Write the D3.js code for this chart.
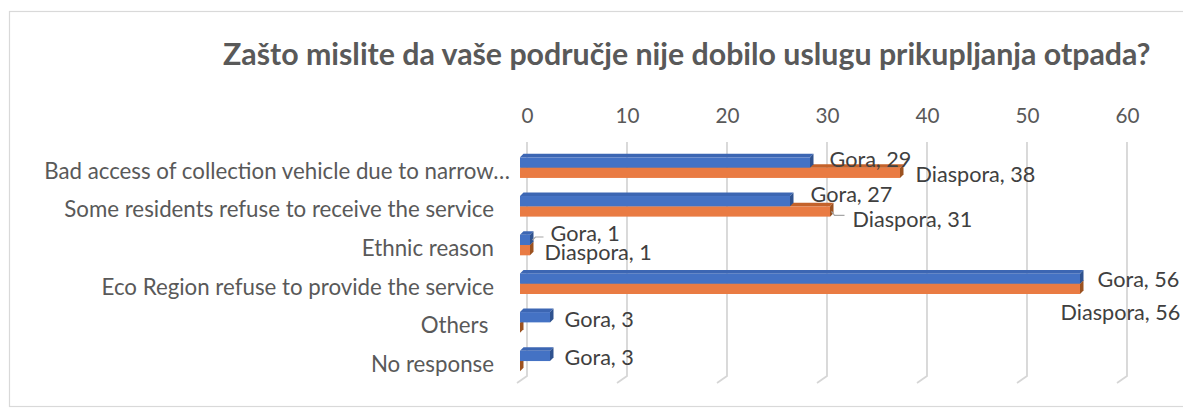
<!DOCTYPE html>
<html>
<head>
<meta charset="utf-8">
<script src="https://cdn.jsdelivr.net/npm/d3@7/dist/d3.min.js"></script>
<style>
  html, body { margin: 0; padding: 0; background: #fff; }
  svg { display: block; }
  text { font-family: Lato, "Open Sans", sans-serif; }
</style>
</head>
<body>
<div id="chart"></div>
<script>
// ---------------- data ----------------
const title = "Zašto mislite da vaše područje nije dobilo uslugu prikupljanja otpada?";
const categories = [
  "Bad access of collection vehicle due to narrow…",
  "Some residents refuse to receive the service",
  "Ethnic reason",
  "Eco Region refuse to provide the service",
  "Others ",
  "No response"
];
const seriesNames = ["Gora", "Diaspora"];
const goraValues = [29, 27, 1, 56, 3, 3];
const diasporaValues = [38, 31, 1, 56, 0, 0];
const tickValues = [0, 10, 20, 30, 40, 50, 60];

// ---------------- layout ----------------
const W = 1183, H = 408;
const svg = d3.select("#chart").append("svg").attr("width", W).attr("height", H);

// border
svg.append("rect").attr("x", 9.5).attr("y", 11.5).attr("width", 1185).attr("height", 395)
  .attr("fill", "#fff").attr("stroke", "#d9d9d9").attr("stroke-width", 1.2);

// font fitting helper
function fitSize(str, targetW, weight) {
  const t = svg.append("text").attr("font-size", 100).attr("font-weight", weight || 400).text(str);
  const w = t.node().getComputedTextLength();
  t.remove();
  return 100 * targetW / w;
}
const catSize = fitSize("Some residents refuse to receive the service", 430);
const titleSize = fitSize(title, 928, 700);
const labSize = fitSize("Diaspora, 38", 120);
const tickSize = fitSize("60", 24);

// scales
const xBack = d3.scaleLinear().domain([0, 60]).range([527, 1127]);
const barShift = -7;     // bars sit in front of the back wall
const floorDX = -10, floorDY = 7;
const y = d3.scaleBand().domain(categories).range([148.3, 380.4]);
const cy = c => y(c) + y.bandwidth() / 2;
const xF = v => xBack(v) + barShift;
const gridTop = 142, gridBottom = 376;
const depth = 3.5;
const barH = 10.3;

// gridlines (back wall) + floor diagonals
const grid = svg.append("g");
tickValues.forEach(t => {
  const gx = xBack(t);
  grid.append("path")
    .attr("d", `M${gx},${gridTop}L${gx},${gridBottom}L${gx + floorDX},${gridBottom + floorDY}`)
    .attr("fill", "none").attr("stroke", "#d6d6d6").attr("stroke-width", 1.8);
});

// top axis tick labels
const axis = d3.axisTop(xBack).tickValues(tickValues).tickSize(0).tickPadding(0);
const axG = svg.append("g").attr("transform", `translate(0,${123})`).call(axis);
axG.select(".domain").remove();
axG.selectAll("text").attr("font-size", tickSize).attr("fill", "#595959")
  .attr("font-family", "Lato, 'Open Sans', sans-serif").attr("dy", 0);

// title
svg.append("text").attr("x", 223).attr("y", 65).attr("font-size", titleSize)
  .attr("font-weight", 700).attr("fill", "#595959").text(title);

// category labels
svg.append("g").selectAll("text").data(categories).join("text")
  .attr("x", d => d.endsWith("…") ? 510 : 494)
  .attr("y", d => cy(d) + 11)
  .attr("text-anchor", "end")
  .attr("font-size", catSize)
  .attr("fill", "#595959")
  .style("white-space", "pre")
  .text(d => d);

// 3D bars
const colors = {
  Gora: { front: "#4472c4", top: "#3c66b3", side: "#2f528f" },
  Diaspora: { front: "#e97b43", top: "#c4622a", side: "#9c5220" }
};
function drawBar(g, v, y0, col) {
  const x0 = xF(0), x1 = xF(v), y1 = y0 + barH, d = depth;
  if (x1 > x0) {
    g.append("rect").attr("x", x0).attr("y", y0).attr("width", x1 - x0).attr("height", barH)
      .attr("fill", col.front);
    g.append("path").attr("d", `M${x0},${y0}L${x0 + d},${y0 - d}L${x1 + d},${y0 - d}L${x1},${y0}Z`)
      .attr("fill", col.top);
  }
  g.append("path").attr("d", `M${x1},${y0}L${x1 + d},${y0 - d}L${x1 + d},${y1 - d}L${x1},${y1}Z`)
    .attr("fill", col.side);
}
const bars = svg.append("g");
categories.forEach((c, i) => {
  const g = bars.append("g");
  drawBar(g, diasporaValues[i], cy(c), colors.Diaspora);
  drawBar(g, goraValues[i], cy(c) - barH, colors.Gora);
});

// data labels (label placement nudges relative to bar end / band centre)
const goraLabelPos = [[16, -1], [17, -4], [17, -4], [14, 3], [11, 5], [11, 4]];
const diasLabelPos = [[12, 14], [19, 21], [11, 15], [-23, 36], null, null];
const labels = svg.append("g");
function addLabel(name, v, c, pos) {
  if (!pos || v === 0) return;
  labels.append("text")
    .attr("x", xF(v) + depth + pos[0])
    .attr("y", cy(c) + pos[1])
    .attr("font-size", labSize).attr("fill", "#404040")
    .text(`${name}, ${v}`);
}
categories.forEach((c, i) => {
  addLabel(seriesNames[0], goraValues[i], c, goraLabelPos[i]);
  addLabel(seriesNames[1], diasporaValues[i], c, diasLabelPos[i]);
});

// leader lines
const leader = (pts) => labels.append("path").attr("d", d3.line()(pts))
  .attr("fill", "none").attr("stroke", "#a6a6a6").attr("stroke-width", 1.2);
{
  const c = categories[1], v = diasporaValues[1];
  const xe = xF(v) + depth - 2, yc = cy(c) + 5;
  leader([[xe, yc], [xe + 3, yc + 4], [xe + 13, yc + 4]]);
}
{
  const c = categories[2], v = goraValues[2];
  const xe = xF(v) + depth - 1, yc = cy(c) - 7;
  leader([[xe, yc + 2], [xe + 3, yc - 1], [xe + 11, yc - 1]]);
}
</script>
</body>
</html>
